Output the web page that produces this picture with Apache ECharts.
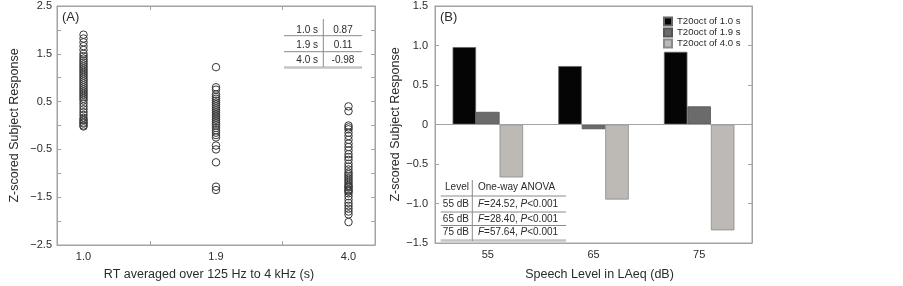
<!DOCTYPE html>
<html>
<head>
<meta charset="utf-8">
<script src="https://cdn.jsdelivr.net/npm/echarts@6.0.0/dist/echarts.min.js"></script>
<style>
  html, body { margin: 0; padding: 0; background: #fff; }
  #chart { width: 903px; height: 286px; }
</style>
</head>
<body>
<div id="chart"></div>
<script>
// panel A: subject responses per RT
var rtCats = ['1.0', '1.9', '4.0'];
var rt10 = [1.90, 1.82, 1.74, 1.66, 1.58, 1.50, 1.45, 1.40, 1.36, 1.32, 1.28, 1.24, 1.20, 1.16,
  1.12, 1.08, 1.04, 1.00, 0.96, 0.92, 0.88, 0.84, 0.80, 0.76, 0.72, 0.68, 0.64, 0.60, 0.56,
  0.52, 0.46, 0.40, 0.34, 0.28, 0.22, 0.16, 0.12, 0.10, 0.06, 0.04, 0.00, -0.02];
var rt19 = [1.22, 0.80, 0.75, 0.65, 0.60, 0.56, 0.52, 0.48, 0.44, 0.40, 0.36, 0.32, 0.28, 0.24,
  0.20, 0.16, 0.12, 0.08, 0.04, 0.00, -0.05, -0.10, -0.15, -0.20, -0.25, -0.42, -0.50, -0.77,
  -1.28, -1.35];
var rt40 = [0.40, 0.30, 0.00, -0.04, -0.08, -0.15, -0.22, -0.30, -0.38, -0.45, -0.52, -0.60,
  -0.66, -0.72, -0.80, -0.86, -0.92, -0.98, -1.02, -1.06, -1.10, -1.14, -1.18, -1.22, -1.26,
  -1.28, -1.30, -1.34, -1.36, -1.38, -1.42, -1.48, -1.55, -1.62, -1.68, -1.74, -1.80, -1.86, -2.02];
var meanLabels = ['1.0 s', '1.9 s', '4.0 s'];
var meanVals = ['0.87', '0.11', '-0.98'];

// panel B: mean response per speech level
var levelCats = ['55', '65', '75'];
var seriesNames = ['T20oct of 1.0 s', 'T20oct of 1.9 s', 'T20oct of 4.0 s'];
var t10 = [0.98, 0.74, 0.92];
var t19 = [0.16, -0.06, 0.23];
var t40 = [-0.67, -0.95, -1.34];
var anovaLevels = ['55 dB', '65 dB', '75 dB'];
var anovaF = ['24.52', '28.40', '57.64'];
var anovaP = ['0.001', '0.001', '0.001'];

var FONT = "'Liberation Sans', Arial, sans-serif";
var TXT = '#2b2b2b';
var FRAME = '#a3a3a3';

function fmtY(v) {
  if (v === 0) return '0';
  return v.toFixed(1).replace('-', '\u2212');
}

var scatterData = [];
[rt10, rt19, rt40].forEach(function (arr, i) {
  arr.forEach(function (v) { scatterData.push([i, v]) })
});

// table annotations
var g = [];
function line(x1, y1, x2, y2, color, w) {
  g.push({ type: 'line', silent: true, shape: { x1: x1, y1: y1, x2: x2, y2: y2 },
    style: { stroke: color, lineWidth: w } });
}
function text(str, x, y, align, extra) {
  var st = { text: str, x: x, y: y, fill: TXT, font: '10px ' + FONT,
    align: align, verticalAlign: 'middle' };
  if (extra) Object.assign(st, extra);
  g.push({ type: 'text', silent: true, z: 10, style: st });
}
g.push({ type: 'text', style: { text: '(A)', x: 62, y: 17, fill: TXT, font: '13px ' + FONT, verticalAlign: 'middle' } });
g.push({ type: 'text', style: { text: '(B)', x: 440, y: 17, fill: TXT, font: '13px ' + FONT, verticalAlign: 'middle' } });

// left table
meanLabels.forEach(function (lab, i) {
  var y = 30 + i * 15.3;
  text(lab, 318, y, 'right');
  text(meanVals[i], 343, y, 'center');
});
line(284, 35.7, 362, 35.7, '#8a8a8a', 1);
line(284, 51.7, 362, 51.7, '#8a8a8a', 1);
line(284, 67.5, 362, 67.5, '#c4c4c4', 2.5);
line(323.3, 19, 323.3, 67, '#8a8a8a', 1);

// right table
text('Level', 457, 187.3, 'center');
text('One-way ANOVA', 478, 187.3, 'left');
anovaLevels.forEach(function (lab, i) {
  var y = [204, 219.3, 232.5][i];
  text(lab, 469, y, 'right');
  text('{i|F}=' + anovaF[i] + ', {i|P}<' + anovaP[i], 478, y, 'left',
    { rich: { i: { fontStyle: 'italic', fontSize: 10, fontFamily: FONT, fill: TXT } } });
});
line(440.7, 196, 566, 196, '#8a8a8a', 1);
line(440.7, 212, 566, 212, '#8a8a8a', 1);
line(440.7, 225.5, 566, 225.5, '#8a8a8a', 1);
line(440.7, 240.5, 566, 240.5, '#c4c4c4', 2.5);
line(472.3, 180, 472.3, 241, '#8a8a8a', 1);

var axisText = { color: TXT, fontSize: 11, fontFamily: FONT };
var nameText = { color: TXT, fontSize: 12.5, fontFamily: FONT };

var chart = echarts.init(document.getElementById('chart'));
chart.setOption({
  animation: false,
  backgroundColor: '#fff',
  textStyle: { fontFamily: FONT },
  grid: [
    { left: 57, right: 528, top: 6, bottom: 39, show: true, borderColor: FRAME, borderWidth: 1 },
    { left: 435, right: 151, top: 6, bottom: 41, show: true, borderColor: FRAME, borderWidth: 1 }
  ],
  legend: {
    data: seriesNames,
    orient: 'vertical',
    left: 663,
    top: 16,
    padding: 0,
    itemWidth: 8,
    itemHeight: 8,
    itemGap: 0,
    icon: 'rect',
    textStyle: { color: TXT, fontSize: 9.6, lineHeight: 11, fontFamily: FONT }
  },
  xAxis: [
    {
      gridIndex: 0, type: 'value', min: -0.2, max: 2.2,
      name: 'RT averaged over 125 Hz to 4 kHz (s)', nameLocation: 'middle', nameGap: 23,
      nameTextStyle: Object.assign({ padding: [0, 14, 0, 0] }, nameText),
      axisLine: { onZero: false, lineStyle: { color: FRAME } },
      axisTick: { inside: true, length: 4, customValues: [0.5, 1.5], lineStyle: { color: FRAME } },
      axisLabel: Object.assign({ customValues: [0, 1, 2], margin: 6,
        formatter: function (v) { return rtCats[Math.round(v)] } }, axisText),
      splitLine: { show: false }
    },
    {
      gridIndex: 0, type: 'value', position: 'top', min: -0.2, max: 2.2,
      axisLine: { onZero: false, lineStyle: { color: FRAME } },
      axisTick: { inside: true, length: 4, customValues: [0.5, 1.5], lineStyle: { color: FRAME } },
      axisLabel: { show: false }, splitLine: { show: false }
    },
    {
      gridIndex: 1, type: 'category', data: levelCats,
      name: 'Speech Level in LAeq (dB)', nameLocation: 'middle', nameGap: 25,
      nameTextStyle: Object.assign({ padding: [0, 0, 0, 12] }, nameText),
      axisLine: { onZero: false, lineStyle: { color: FRAME } },
      axisTick: { inside: true, length: 4, alignWithLabel: true, lineStyle: { color: FRAME } },
      axisLabel: Object.assign({ margin: 6 }, axisText)
    },
    {
      gridIndex: 1, type: 'category', data: levelCats, position: 'top',
      axisLine: { onZero: false, lineStyle: { color: FRAME } },
      axisTick: { inside: true, length: 4, alignWithLabel: true, lineStyle: { color: FRAME } },
      axisLabel: { show: false }
    }
  ],
  yAxis: [
    {
      gridIndex: 0, type: 'value', min: -2.5, max: 2.5, interval: 0.5,
      name: 'Z-scored Subject Response', nameLocation: 'middle', nameGap: 36, nameTextStyle: nameText,
      axisLine: { show: true, onZero: false, lineStyle: { color: FRAME } },
      axisTick: { show: true, inside: true, length: 4, lineStyle: { color: FRAME } },
      axisLabel: Object.assign({ margin: 5, formatter: function (v) {
        return Math.abs(Math.round(v * 2)) % 2 === 1 ? fmtY(v) : '';
      } }, axisText),
      splitLine: { show: false }
    },
    {
      gridIndex: 0, type: 'value', position: 'right', min: -2.5, max: 2.5, interval: 0.5,
      axisLine: { show: true, onZero: false, lineStyle: { color: FRAME } },
      axisTick: { show: true, inside: true, length: 4, lineStyle: { color: FRAME } },
      axisLabel: { show: false }, splitLine: { show: false }
    },
    {
      gridIndex: 1, type: 'value', min: -1.5, max: 1.5, interval: 0.5,
      name: 'Z-scored Subject Response', nameLocation: 'middle', nameGap: 32, nameTextStyle: nameText,
      axisLine: { show: true, onZero: false, lineStyle: { color: FRAME } },
      axisTick: { show: true, inside: true, length: 4, lineStyle: { color: FRAME } },
      axisLabel: Object.assign({ margin: 7, formatter: fmtY }, axisText),
      splitLine: { show: false }
    },
    {
      gridIndex: 1, type: 'value', position: 'right', min: -1.5, max: 1.5, interval: 0.5,
      axisLine: { show: true, onZero: false, lineStyle: { color: FRAME } },
      axisTick: { show: true, inside: true, length: 4, lineStyle: { color: FRAME } },
      axisLabel: { show: false }, splitLine: { show: false }
    }
  ],
  series: [
    {
      type: 'scatter', xAxisIndex: 0, yAxisIndex: 0,
      data: scatterData,
      symbol: 'circle', symbolSize: 7.5,
      itemStyle: { color: 'rgba(255,255,255,0)', borderColor: '#3a3a3a', borderWidth: 1, opacity: 1 }
    },
    {
      name: seriesNames[0], type: 'bar', xAxisIndex: 2, yAxisIndex: 2, data: t10,
      barWidth: 23.5, barGap: '0%',
      itemStyle: { color: '#050505', borderColor: '#666', borderWidth: 0.8 },
      markLine: {
        silent: true, symbol: 'none', label: { show: false },
        lineStyle: { color: FRAME, type: 'solid', width: 1 },
        data: [{ yAxis: 0 }]
      }
    },
    {
      name: seriesNames[1], type: 'bar', xAxisIndex: 2, yAxisIndex: 2, data: t19,
      barWidth: 23.5, barGap: '0%',
      itemStyle: { color: '#6b6b6b', borderColor: '#555', borderWidth: 0.8 }
    },
    {
      name: seriesNames[2], type: 'bar', xAxisIndex: 2, yAxisIndex: 2, data: t40,
      barWidth: 23.5, barGap: '0%',
      itemStyle: { color: '#bdbab6', borderColor: '#8a8a8a', borderWidth: 0.8 }
    }
  ],
  graphic: g
});
</script>
</body>
</html>
